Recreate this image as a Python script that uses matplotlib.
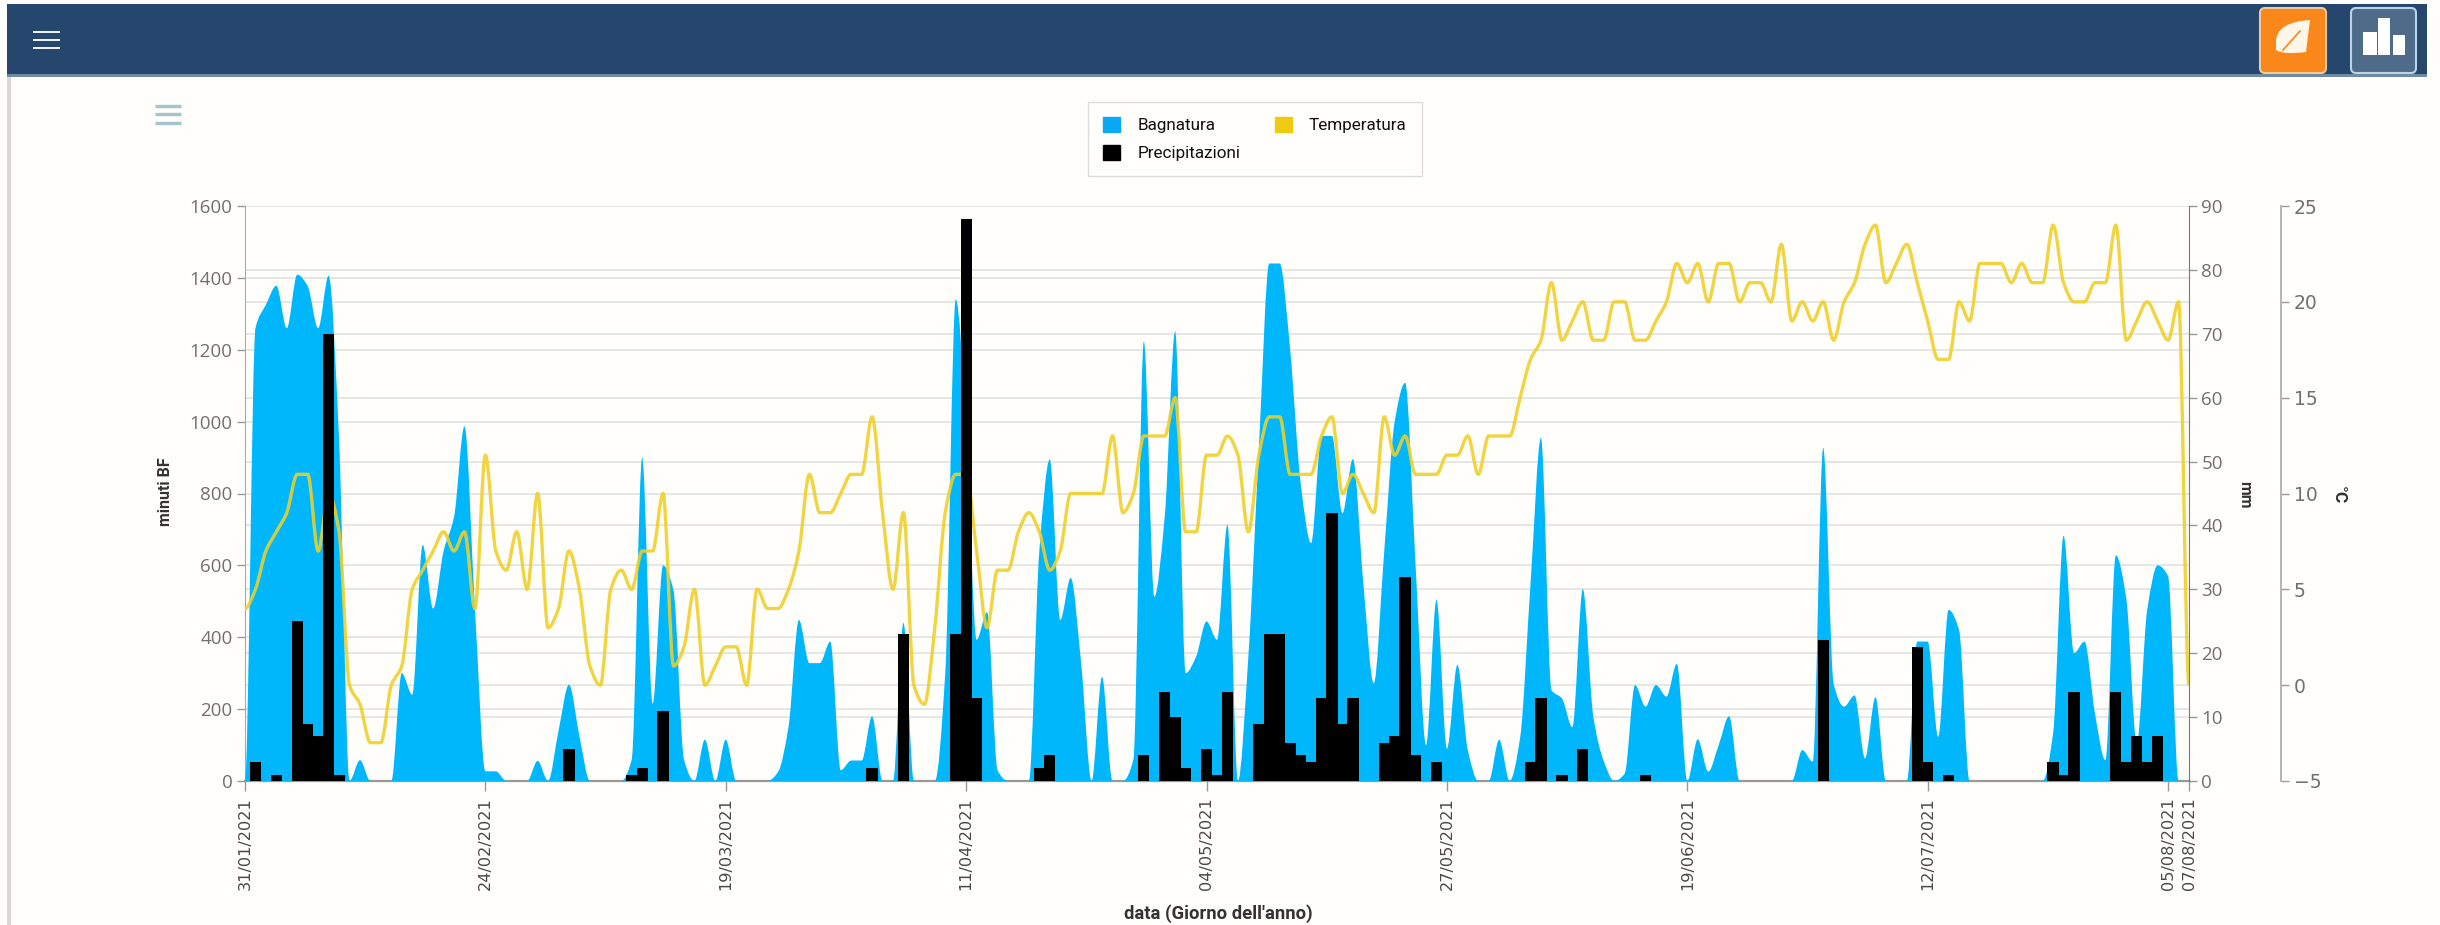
import numpy as np
import matplotlib
matplotlib.use('Agg')
import matplotlib.pyplot as plt
from matplotlib.patches import Rectangle, FancyBboxPatch, PathPatch, Patch
from matplotlib.path import Path

tick_idx = [0, 23, 46, 69, 92, 115, 138, 161, 184, 186]
tick_labels = ['31/01/2021', '24/02/2021', '19/03/2021', '11/04/2021', '04/05/2021',
               '27/05/2021', '19/06/2021', '12/07/2021', '05/08/2021', '07/08/2021']

bagnatura = [
    0, 1260, 1325, 1378, 1260, 1409, 1377, 1260, 1406, 950,
    0, 58, 0, 0, 0, 300, 240, 657, 480, 640,
    735, 987, 480, 27, 27, 0, 0, 0, 56, 0,
    140, 268, 125, 0, 0, 0, 0, 60, 900, 215,
    600, 530, 60, 0, 115, 0, 115, 0, 0, 0,
    0, 25, 150, 448, 328, 328, 388, 30, 57, 57,
    180, 0, 0, 440, 0, 0, 0, 300, 1340, 1000,
    393, 470, 30, 0, 0, 0, 640, 895, 448, 565,
    328, 0, 290, 0, 0, 60, 1223, 513, 736, 1251,
    300, 346, 444, 393, 713, 0, 346, 922, 1440, 1440,
    1200, 830, 662, 960, 960, 745, 896, 550, 272, 640,
    1000, 1108, 600, 100, 504, 90, 323, 85, 0, 0,
    115, 0, 120, 550, 955, 253, 230, 150, 534, 180,
    56, 0, 20, 267, 207, 267, 235, 326, 0, 116,
    26, 100, 180, 0, 0, 0, 0, 0, 0, 86,
    54, 927, 270, 207, 238, 63, 233, 0, 0, 0,
    388, 388, 123, 476, 420, 0, 0, 0, 0, 0,
    0, 0, 0, 133, 682, 356, 388, 188, 58, 628,
    508, 105, 476, 600, 570, 0, 0]

precipitazioni = [
    0, 3, 0, 1, 0, 25, 9, 7, 70, 1,
    0, 0, 0, 0, 0, 0, 0, 0, 0, 0,
    0, 0, 0, 0, 0, 0, 0, 0, 0, 0,
    0, 5, 0, 0, 0, 0, 0, 1, 2, 0,
    11, 0, 0, 0, 0, 0, 0, 0, 0, 0,
    0, 0, 0, 0, 0, 0, 0, 0, 0, 0,
    2, 0, 0, 23, 0, 0, 0, 0, 23, 88,
    13, 0, 0, 0, 0, 0, 2, 4, 0, 0,
    0, 0, 0, 0, 0, 0, 4, 0, 14, 10,
    2, 0, 5, 1, 14, 0, 0, 9, 23, 23,
    6, 4, 3, 13, 42, 9, 13, 0, 0, 6,
    7, 32, 4, 0, 3, 0, 0, 0, 0, 0,
    0, 0, 0, 3, 13, 0, 1, 0, 5, 0,
    0, 0, 0, 0, 1, 0, 0, 0, 0, 0,
    0, 0, 0, 0, 0, 0, 0, 0, 0, 0,
    0, 22, 0, 0, 0, 0, 0, 0, 0, 0,
    21, 3, 0, 1, 0, 0, 0, 0, 0, 0,
    0, 0, 0, 3, 1, 14, 0, 0, 0, 14,
    3, 7, 3, 7, 0, 0, 0]

temperatura = [
    4, 5, 7, 8, 9, 11, 11, 7, 10, 8,
    0, -1, -3, -3, 0, 1, 5, 6, 7, 8,
    7, 8, 4, 12, 7, 6, 8, 5, 10, 3,
    4, 7, 5, 1, 0, 5, 6, 5, 7, 7,
    10, 1, 2, 5, 0, 1, 2, 2, 0, 5,
    4, 4, 5, 7, 11, 9, 9, 10, 11, 11,
    14, 9, 5, 9, 0, -1, 3, 9, 11, 11,
    7, 3, 6, 6, 8, 9, 8, 6, 7, 10,
    10, 10, 10, 13, 9, 10, 13, 13, 13, 15,
    8, 8, 12, 12, 13, 12, 8, 12, 14, 14,
    11, 11, 11, 13, 14, 10, 11, 10, 9, 14,
    12, 13, 11, 11, 11, 12, 12, 13, 11, 13,
    13, 13, 15, 17, 18, 21, 18, 19, 20, 18,
    18, 20, 20, 18, 18, 19, 20, 22, 21, 22,
    20, 22, 22, 20, 21, 21, 20, 23, 19, 20,
    19, 20, 18, 20, 21, 23, 24, 21, 22, 23,
    21, 19, 17, 17, 20, 19, 22, 22, 22, 21,
    22, 21, 21, 24, 21, 20, 20, 21, 21, 24,
    18, 19, 20, 19, 18, 20, 0]

ticks_min = [0, 200, 400, 600, 800, 1000, 1200, 1400, 1600]
ticks_mm = [0, 10, 20, 30, 40, 50, 60, 70, 80, 90]
ticks_temp = [-5, 0, 5, 10, 15, 20, 25]

BG = '#fffefa'
BLUE = '#00b7fb'
YELLOW = '#f0cf28'
GRID = '#e6e6e4'
W, H = 2440, 925


def smooth_path(xs, ys, close=False):
    # monotone tangents (harmonic mean), flat at local peaks, so no overshoot
    t = np.zeros(len(ys))
    for i in range(1, len(ys) - 1):
        d0 = ys[i] - ys[i - 1]
        d1 = ys[i + 1] - ys[i]
        if d0 * d1 > 0:
            t[i] = 2 * d0 * d1 / (d0 + d1)
    verts = [(xs[0], ys[0])]
    codes = [Path.MOVETO]
    for i in range(len(ys) - 1):
        verts += [(xs[i] + 1 / 3, ys[i] + t[i] / 3),
                  (xs[i + 1] - 1 / 3, ys[i + 1] - t[i + 1] / 3),
                  (xs[i + 1], ys[i + 1])]
        codes += [Path.CURVE4] * 3
    if close:
        verts += [(xs[-1], 0), (xs[0], 0), (xs[0], ys[0])]
        codes += [Path.LINETO, Path.LINETO, Path.CLOSEPOLY]
    return Path(verts, codes)


fig = plt.figure(figsize=(W / 100, H / 100), dpi=100, facecolor=BG)

# page furniture behind the chart
ui = fig.add_axes([0, 0, 1, 1], zorder=-1)
ui.set_xlim(0, W)
ui.set_ylim(H, 0)
ui.axis('off')
ui.add_patch(Rectangle((7, 4), 2420, 71, color='#25476d', lw=0))
ui.add_patch(Rectangle((7, 74), 2420, 3, color='#6d8ba3', lw=0))
ui.add_patch(Rectangle((7, 77), 4, 848, color='#d8d8d6', lw=0))
for y in [32, 40, 48]:
    ui.plot([33, 60], [y, y], color='#f2f6f8', lw=1.4, solid_capstyle='butt')
for y in [106, 114, 123]:
    ui.plot([155, 181], [y, y], color='#a3c3d0', lw=2.4, solid_capstyle='butt')
ui.add_patch(FancyBboxPatch((2260, 8), 66, 65, boxstyle='round,pad=0,rounding_size=5',
                            fc='#f98719', ec='#f0c9a0', lw=1.5))
ui.add_patch(FancyBboxPatch((2351, 8), 65, 65, boxstyle='round,pad=0,rounding_size=5',
                            fc='#4f6b8a', ec='#b9d5e6', lw=1.5))
leaf = Path([(2310, 20), (2278, 22), (2276, 40), (2276, 50), (2283, 55), (2306, 52), (2310, 20)],
            [Path.MOVETO, Path.CURVE3, Path.CURVE3, Path.LINETO, Path.CURVE3, Path.CURVE3, Path.CLOSEPOLY])
ui.add_patch(PathPatch(leaf, fc='#fff6ea', lw=0))
ui.plot([2283, 2300], [50, 31], color='#f98719', lw=1.2)
ui.add_patch(Rectangle((2363, 32), 14, 23, color='white', lw=0))
ui.add_patch(Rectangle((2378, 18), 12, 37, color='white', lw=0))
ui.add_patch(Rectangle((2393, 35), 12, 20, color='white', lw=0))

rect = [245 / W, 1 - 781 / H, 1944 / W, 575 / H]
ax = fig.add_axes(rect)
ax.patch.set_visible(False)
ax3 = ax.twinx()
ax2 = ax.twinx()

x = np.arange(len(bagnatura))
ax.add_patch(PathPatch(smooth_path(x, np.array(bagnatura, dtype=float), close=True), fc=BLUE, lw=0, zorder=3))
ax3.add_patch(PathPatch(smooth_path(x, np.array(temperatura, dtype=float)), fc='none',
                        ec=YELLOW, lw=2.4, alpha=0.88))
ax2.bar(x, precipitazioni, width=1.08, color='black', lw=0)

ax.set_xlim(0, 186)
ax.set_ylim(0, 1600)
ax2.set_ylim(0, 90)
ax3.set_ylim(-5, 25)

# gridlines of all three scales sit under the area
for v in ticks_min:
    ax.plot([0, 1], [v, v], transform=ax.get_yaxis_transform(), color=GRID, lw=1.4, zorder=1)
for v in ticks_mm:
    ax.plot([0, 1], [v, v], transform=ax2.get_yaxis_transform(), color=GRID, lw=1.4, zorder=1)
for v in ticks_temp:
    ax.plot([0, 1], [v, v], transform=ax3.get_yaxis_transform(), color=GRID, lw=1.4, zorder=1)

ax.set_yticks(ticks_min)
ax2.set_yticks(ticks_mm)
ax3.set_yticks(ticks_temp)
ax.set_xticks(tick_idx)
ax.set_xticklabels(tick_labels, rotation=90, fontsize=11.6, color='#4a4a4a', family='DejaVu Sans')
ax.tick_params(axis='x', length=7, width=1, color='#999999', pad=5)

for a in [ax, ax2, ax3]:
    for s in a.spines.values():
        s.set_visible(False)
    a.tick_params(axis='y', length=6, width=1, color='#999999', labelcolor='#707070', labelsize=13.5, pad=3)
    for lab in a.get_yticklabels():
        lab.set_family('Open Sans')

ax.spines['left'].set_visible(True)
ax.spines['left'].set_color('#aaaaaa')
ax.spines['bottom'].set_visible(True)
ax.spines['bottom'].set_color('#999999')
ax.spines['bottom'].set_linewidth(1.6)
ax2.spines['right'].set_visible(True)
ax2.spines['right'].set_color('#777777')
ax3.spines['right'].set_visible(True)
ax3.spines['right'].set_color('#b5b5b5')
ax3.spines['right'].set_position(('outward', 92 * 72 / 100))
ax3.spines['right'].set_linewidth(1.4)
ax3.tick_params(axis='y', direction='out')

label_style = dict(fontweight='bold', color='#333333', family='Roboto', va='center', ha='center')
fig.text(166 / W, 1 - 492 / H, 'minuti BF', rotation=90, fontsize=11.5, **label_style)
fig.text(2245 / W, 1 - 495 / H, 'mm', rotation=270, fontsize=11.5, **label_style)
fig.text(2338 / W, 1 - 495 / H, '°C', rotation=270, fontsize=12.5, **label_style)
fig.text(1218 / W, 1 - 914 / H, "data (Giorno dell'anno)", fontsize=13.3, **label_style)

handles = [Patch(color='#0aa8f5', label='Bagnatura'), Patch(color='black', label='Precipitazioni'),
           Patch(color='#eecb10', label='Temperatura')]
leg = fig.legend(handles=handles, ncol=2, loc='center', bbox_to_anchor=(1255 / W, 1 - 139 / H),
                 frameon=True, fancybox=False, edgecolor='#dcdcdc', facecolor=BG, framealpha=1,
                 prop={'family': 'Roboto', 'size': 12.3}, handlelength=1, handleheight=1,
                 handletextpad=1.0, columnspacing=2.0, labelspacing=0.65, borderpad=0.9)
for t in leg.get_texts():
    t.set_color('#111111')

fig.savefig('out.png', dpi=100, facecolor=BG)
